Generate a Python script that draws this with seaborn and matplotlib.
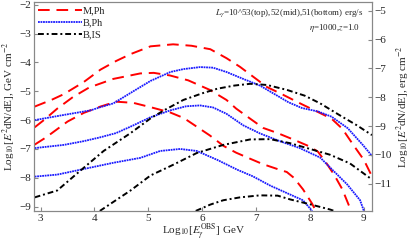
import numpy as np
import pandas as pd
import matplotlib
matplotlib.use("Agg")
import matplotlib.pyplot as plt
import seaborn as sns

sns.set_style("ticks")
plt.rcParams["font.family"] = ["Liberation Serif", "DejaVu Serif"]
plt.rcParams["mathtext.fontset"] = "stix"

# --------------------------------------------------
# data (log10 E, log10 E^2 dN/dE in GeV cm^-2)
# --------------------------------------------------

# M,Ph
mph_top_x = [2.89, 3.2, 3.43, 3.8, 4.11, 4.4, 4.67, 5.04, 5.46, 5.8, 6.15, 6.45, 6.7, 6.95,
             7.2, 7.5, 7.85, 8.15, 8.4, 8.6, 8.8, 9.0, 9.15]
mph_top_y = [-5.53, -5.3, -5.1, -4.68, -4.25, -3.95, -3.71, -3.44, -3.37, -3.42, -3.54, -3.85,
             -4.15, -4.5, -4.85, -5.12, -5.45, -5.72, -5.95, -6.3, -6.85, -7.38, -7.95]
mph_mid_x = [2.89, 3.06, 3.31, 3.6, 3.9, 4.35, 4.85, 5.1, 5.4, 5.74, 6.14, 6.45, 6.63, 6.89,
             7.13, 7.4, 7.7, 8.0, 8.15, 8.3, 8.45, 8.6, 8.72, 8.78]
mph_mid_y = [-6.25, -6.0, -5.6, -5.2, -4.87, -4.57, -4.38, -4.36, -4.45, -4.62, -4.95, -5.3,
             -5.6, -5.95, -6.27, -6.45, -6.68, -6.92, -7.1, -7.48, -7.9, -8.4, -8.95, -9.2]
mph_bot_x = [2.89, 3.1, 3.5, 3.8, 4.11, 4.4, 4.72, 5.04, 5.4, 5.66, 5.9, 6.14, 6.4, 6.63,
             6.89, 7.13, 7.4, 7.57, 7.7, 7.87, 8.04, 8.12]
mph_bot_y = [-6.85, -6.6, -6.05, -5.75, -5.53, -5.36, -5.4, -5.55, -5.73, -5.93, -6.23, -6.53,
             -6.9, -7.13, -7.34, -7.53, -7.7, -7.8, -8.0, -8.4, -8.9, -9.2]

# B,Ph
bph_top_x = [2.89, 3.37, 3.93, 4.11, 4.35, 4.72, 5.04, 5.41, 5.65, 5.96, 6.2, 6.45, 6.76,
             7.07, 7.39, 7.6, 7.85, 8.15, 8.4, 8.7, 8.98, 9.15]
bph_top_y = [-6.0, -5.84, -5.66, -5.55, -5.42, -5.0, -4.64, -4.33, -4.23, -4.16, -4.18, -4.33,
             -4.57, -4.8, -5.15, -5.38, -5.58, -5.7, -5.88, -6.28, -6.86, -7.24]
bph_mid_x = [2.89, 3.43, 3.8, 4.1, 4.4, 4.7, 5.04, 5.41, 5.7, 5.96, 6.2, 6.45, 6.76, 7.07,
             7.44, 7.81, 8.19, 8.43, 8.69, 8.93, 9.0]
bph_mid_y = [-6.97, -6.86, -6.73, -6.6, -6.45, -6.2, -5.9, -5.66, -5.52, -5.49, -5.56, -5.78,
             -6.18, -6.46, -6.73, -6.97, -7.3, -7.75, -8.23, -8.78, -9.15]
bph_bot_x = [2.89, 3.31, 3.74, 4.35, 4.85, 5.22, 5.59, 5.9, 6.28, 6.65, 6.94, 7.26, 7.63,
             7.87, 8.04]
bph_bot_y = [-7.96, -7.89, -7.72, -7.48, -7.31, -7.07, -7.0, -7.07, -7.38, -7.72, -7.95,
             -8.27, -8.58, -8.78, -9.15]

# B,IS
bis_top_x = [2.89, 3.31, 3.74, 4.17, 4.67, 5.04, 5.3, 5.65, 6.0, 6.28, 6.6, 6.89, 7.2, 7.57,
             7.9, 8.19, 8.56, 8.87, 9.15]
bis_top_y = [-8.68, -8.44, -7.75, -7.07, -6.45, -5.94, -5.65, -5.3, -5.07, -4.91, -4.8, -4.74,
             -4.78, -4.95, -5.15, -5.42, -5.84, -6.18, -6.52]
bis_mid_x = [4.1, 4.67, 5.04, 5.46, 5.9, 6.39, 6.89, 7.26, 7.63, 8.13, 8.37, 8.74, 9.15]
bis_mid_y = [-9.15, -8.44, -7.92, -7.55, -7.14, -6.86, -6.67, -6.66, -6.8, -7.07, -7.2, -7.5,
             -8.06]
bis_bot_x = [5.88, 6.15, 6.39, 6.7, 7.07, 7.4, 7.63, 8.0, 8.37, 8.45]
bis_bot_y = [-9.15, -8.93, -8.78, -8.68, -8.61, -8.62, -8.75, -8.92, -9.1, -9.15]

GEV_TO_ERG = np.log10(1.602e-3)

rows = []
for model, lum, xs, ys in [
    ("M,Ph", "53", mph_top_x, mph_top_y), ("M,Ph", "52", mph_mid_x, mph_mid_y),
    ("M,Ph", "51", mph_bot_x, mph_bot_y),
    ("B,Ph", "53", bph_top_x, bph_top_y), ("B,Ph", "52", bph_mid_x, bph_mid_y),
    ("B,Ph", "51", bph_bot_x, bph_bot_y),
    ("B,IS", "53", bis_top_x, bis_top_y), ("B,IS", "52", bis_mid_x, bis_mid_y),
    ("B,IS", "51", bis_bot_x, bis_bot_y),
]:
    for x, y in zip(xs, ys):
        rows.append({"model": model, "lum": lum, "logE": x, "flux": y})
df = pd.DataFrame(rows)

styles = {
    "M,Ph": dict(color="#ff0000", ls=(0, (6, 3.5)), lw=1.4),
    "B,Ph": dict(color="#1a1aff", ls=(0, (1, 0.4)), lw=1.3),
    "B,IS": dict(color="black", ls=(0, (3, 1.5, 1, 1.5)), lw=1.4),
}

fig = plt.figure(figsize=(4.11, 2.43), dpi=100)
ax = fig.add_axes([0.083, 0.132, 0.822, 0.86])

for (model, lum), sub in df.groupby(["model", "lum"], sort=False):
    st = styles[model]
    sns.lineplot(data=sub, x="logE", y="flux", ax=ax, color=st["color"], linestyle=st["ls"],
                 linewidth=st["lw"], sort=False, estimator=None,
                 label=model if lum == "53" else None, legend=False)

ax.set_xlim(2.88, 9.15)
ax.set_ylim(-9.15, -1.9)
ax.set_xticks(range(3, 10))
ax.set_yticks(range(-9, -1))
ax.set_xlabel(r"Log$_{10}$[$E_\gamma^{\rm OBS}$] GeV", fontsize=8, labelpad=-1)
ax.set_ylabel(r"Log$_{10}$[$E^2$dN/dE], GeV cm$^{-2}$", fontsize=8, labelpad=1)

ax2 = ax.twinx()
ax2.set_ylim(-9.15 + GEV_TO_ERG, -1.9 + GEV_TO_ERG)
ax2.set_yticks(range(-11, -4))
ax2.set_ylabel(r"Log$_{10}$[$E^2$dN/dE], erg cm$^{-2}$", fontsize=8, labelpad=2)

for a in (ax, ax2):
    a.tick_params(direction="in", labelsize=8, length=3, color="#888888", pad=2)
    for s in a.spines.values():
        s.set_color("#888888")
        s.set_linewidth(0.8)
ax.tick_params(right=False)

handles, labels = ax.get_legend_handles_labels()
ax.legend(handles, labels, loc="upper left", frameon=False, fontsize=7.5,
          handlelength=4.2, handletextpad=0.1, labelspacing=0.25,
          borderaxespad=0.2, borderpad=0.2)

ax.text(0.975, 0.975, r"$L_\gamma$=10^53(top),52(mid),51(bottom) erg/s",
        transform=ax.transAxes, ha="right", va="top", fontsize=6.5)
ax.text(0.965, 0.905, r"$\eta$=1000,$z$=1.0",
        transform=ax.transAxes, ha="right", va="top", fontsize=6.5)

fig.savefig("out.png", dpi=100)
